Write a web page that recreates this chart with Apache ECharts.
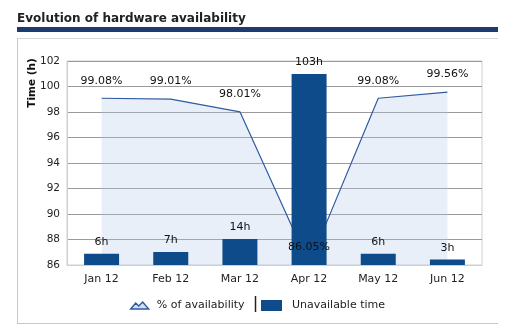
<!DOCTYPE html>
<html>
<head>
<meta charset="utf-8">
<style>
html,body{margin:0;padding:0;background:#fff;}
#c{width:507px;height:333px;}
</style>
<script src="https://cdn.jsdelivr.net/npm/echarts@6/dist/echarts.min.js"></script>
</head>
<body>
<div id="c"></div>
<script>
var categories = ['Jan 12', 'Feb 12', 'Mar 12', 'Apr 12', 'May 12', 'Jun 12'];
var availability = [99.08, 99.01, 98.01, 86.05, 99.08, 99.56];
var unavailableHours = [6, 7, 14, 103, 6, 3];
var yTicks = { min: 86, max: 102, interval: 2 };

var FONT = 'DejaVu Sans';
var chart = echarts.init(document.getElementById('c'), null, { renderer: 'canvas' });
chart.setOption({
  animation: false,
  textStyle: { fontFamily: FONT },
  grid: { left: 67, top: 61, width: 415, height: 204, show: true, borderColor: '#cfcfcf', borderWidth: 1, containLabel: false },
  graphic: [
    { type: 'text', left: 17, top: 13, style: { text: 'Evolution of hardware availability', font: 'bold 12px "DejaVu Sans"', fill: '#222' } },
    { type: 'rect', shape: { x: 17, y: 27, width: 481, height: 5 }, style: { fill: '#1e3b6f' } },
    { type: 'line', shape: { x1: 17, y1: 38.5, x2: 498, y2: 38.5 }, style: { stroke: '#d8d8d8', lineWidth: 1 } },
    { type: 'line', shape: { x1: 17.5, y1: 38, x2: 17.5, y2: 323 }, style: { stroke: '#c8c8c8', lineWidth: 1 } },
    { type: 'line', shape: { x1: 17, y1: 323.5, x2: 498, y2: 323.5 }, style: { stroke: '#c8c8c8', lineWidth: 1 } },
    { type: 'line', shape: { x1: 255.5, y1: 296, x2: 255.5, y2: 312 }, style: { stroke: '#222', lineWidth: 1.5 } },
    { type: 'text', x: 32, y: 83, rotation: Math.PI / 2, style: { text: 'Time (h)', font: 'bold 10.5px "DejaVu Sans"', fill: '#111', align: 'center', verticalAlign: 'middle' } }
  ],
  legend: [
    {
      left: 130, top: 300, padding: 0, itemWidth: 18, itemHeight: 7,
      data: [{ name: '% of availability', icon: 'path://M0,8 L5,2 L8,5 L12,1 L18,8 Z', itemStyle: { color: '#d3ddf1', borderColor: '#2f5c9e', borderWidth: 1.4 } }],
      textStyle: { fontFamily: FONT, fontSize: 11, color: '#222', padding: [0, 0, 0, 3] }
    },
    {
      left: 261, top: 300, padding: 0, itemWidth: 21, itemHeight: 11,
      data: [{ name: 'Unavailable time', icon: 'rect', itemStyle: { color: '#0e4b8a' } }],
      textStyle: { fontFamily: FONT, fontSize: 11, color: '#222', padding: [0, 0, 0, 5] }
    }
  ],
  xAxis: {
    type: 'category', data: categories, boundaryGap: true,
    axisLine: { lineStyle: { color: '#cfcfcf' } }, axisTick: { show: false },
    axisLabel: { fontFamily: FONT, fontSize: 11, color: '#222', margin: 9 }
  },
  yAxis: [
    {
      type: 'value', min: yTicks.min, max: yTicks.max, interval: yTicks.interval,
      axisLine: { show: true, lineStyle: { color: '#cfcfcf' } }, axisTick: { show: false },
      axisLabel: { fontFamily: FONT, fontSize: 10.5, color: '#222', margin: 7 },
      splitLine: { lineStyle: { color: '#9a9a9a', width: 1 } }
    },
    { type: 'value', min: 0, max: 110, show: false, splitLine: { show: false } }
  ],
  series: [
    {
      name: '% of availability', type: 'line', data: availability, yAxisIndex: 0, z: 1,
      symbol: 'none', lineStyle: { color: '#2f5c9e', width: 1.2 },
      areaStyle: { color: 'rgba(180,199,235,0.42)' }
    },
    {
      name: 'Unavailable time', type: 'bar', data: unavailableHours, yAxisIndex: 1, z: 3,
      barWidth: 35, itemStyle: { color: '#0e4b8a' },
      label: { show: true, position: 'top', distance: 6, formatter: '{c}h', fontFamily: FONT, fontSize: 11, color: '#111' }
    },
    {
      name: 'availabilityLabels', type: 'scatter', data: availability, yAxisIndex: 0, z: 5,
      symbolSize: 2, itemStyle: { color: 'rgba(0,0,0,0)' }, silent: true,
      label: { show: true, position: 'top', distance: 11, formatter: '{c}%', fontFamily: FONT, fontSize: 11, color: '#111', opacity: 1 }
    }
  ]
});
</script>
</body>
</html>
